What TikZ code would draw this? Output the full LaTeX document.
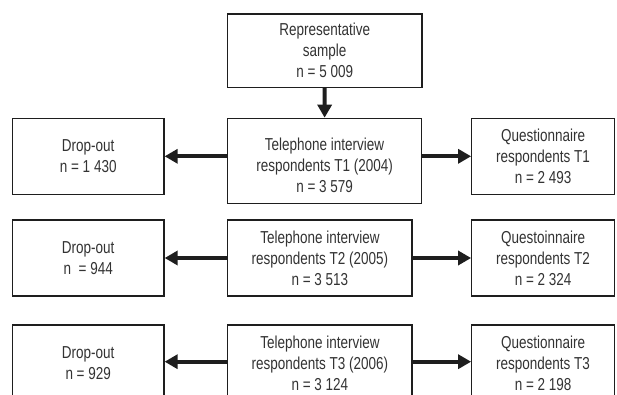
\documentclass[tikz,border=0pt]{standalone}
\usepackage{fontspec}
\setmainfont{Liberation Sans}[FakeStretch=0.78]
\usetikzlibrary{arrows.meta,calc}
\definecolor{ink}{HTML}{1E1E1E}
\definecolor{txtc}{HTML}{333333}
\tikzset{
  box/.style={draw=ink, line width=1.2pt, align=center, inner sep=0pt,
    font=\fontsize{17.3}{21}\selectfont, text=txtc, minimum height=76pt},
  txt/.style={align=center, inner sep=0pt,
    font=\fontsize{17.3}{21}\selectfont, text=txtc},
  arr/.style={draw=ink, line width=4pt,
    -{Triangle[length=13pt,width=14pt]}}
}
\begin{document}
\begin{tikzpicture}[x=1pt,y=-1pt]
\clip (0,0) rectangle (617,395);
\fill[white] (0,0) rectangle (617,395);
% top
\node[box, minimum width=194.5pt, minimum height=73.3pt] (top) at (324.7,50.7)
  {Representative\\sample\\n = 5 009};
% row 1
\node[box, minimum width=194.2pt, minimum height=85.2pt] (m1) at (324.6,160.9) {};
\node[txt] (m1t) at ($(m1.center)+(0,4.5)$)
  {Telephone interview\\respondents T1 (2004)\\n = 3 579};
\node[box, minimum width=151.7pt] (l1) at (88.2,156.3) {Drop-out\\n = 1 430};
\node[box, minimum width=142.8pt] (r1) at (543.1,156.3)
  {Questionnaire\\respondents T1\\n = 2 493};
% row 2
\node[box, minimum width=184.3pt] (m2) at (319.9,258)
  {Telephone interview\\respondents T2 (2005)\\n = 3 513};
\node[box, minimum width=151.7pt] (l2) at (88.2,258) {Drop-out\\n \ = 944};
\node[box, minimum width=142.8pt] (r2) at (543.1,258)
  {Questoinnaire\\respondents T2\\n = 2 324};
% row 3
\node[box, minimum width=184.3pt] (m3) at (319.9,363)
  {Telephone interview\\respondents T3 (2006)\\n = 3 124};
\node[box, minimum width=151.7pt] (l3) at (88.2,363) {Drop-out\\n = 929};
\node[box, minimum width=142.8pt] (r3) at (543.1,363)
  {Questionnaire\\respondents T3\\n = 2 198};
% arrows
\draw[arr] (top.south) -- (m1.north);
\draw[arr] (l1.east -| m1.west) -- (l1.east);
\draw[arr] (r1.west -| m1.east) -- (r1.west);
\draw[arr] (m2.west) -- (l2.east);
\draw[arr] (m2.east) -- (r2.west);
\draw[arr] (l3.east -| m3.west) ++(0,-1.3) coordinate (a3) (a3) -- (a3 -| l3.east);
\draw[arr] (r3.west -| m3.east) ++(0,-1.3) coordinate (b3) (b3) -- (b3 -| r3.west);
\end{tikzpicture}
\end{document}
